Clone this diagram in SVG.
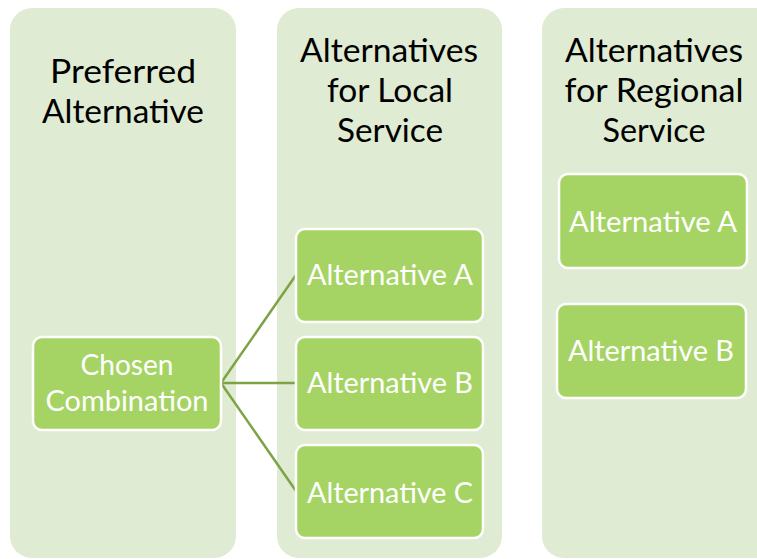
<svg xmlns="http://www.w3.org/2000/svg" width="757" height="559" viewBox="0 0 757 559">
<style>
.col{fill:#dfebd2;}
.box{fill:#a5d464;stroke:#ffffff;stroke-width:2.5;}
.hdr{font-family:Lato,"Liberation Sans",sans-serif;font-size:33px;fill:#000000;text-anchor:middle;}
.lbl{font-family:Lato,"Liberation Sans",sans-serif;font-size:28px;fill:#ffffff;text-anchor:middle;}
.conn{stroke:#7ea346;stroke-width:2.5;fill:none;}
</style>
<rect width="757" height="559" fill="#ffffff"/>
<g id="col-preferred">
<rect class="col" x="10" y="8" width="226" height="550" rx="22"/>
<text class="hdr" x="123" y="83" textLength="146" lengthAdjust="spacingAndGlyphs">Preferred</text>
<text class="hdr" x="123" y="123" textLength="162" lengthAdjust="spacingAndGlyphs">Alternative</text>
</g>
<g id="col-local">
<rect class="col" x="277" y="8" width="225" height="550" rx="22"/>
<text class="hdr" x="389" y="62" textLength="178" lengthAdjust="spacingAndGlyphs">Alternatives</text>
<text class="hdr" x="390" y="102" textLength="126" lengthAdjust="spacingAndGlyphs">for Local</text>
<text class="hdr" x="390" y="142" textLength="106" lengthAdjust="spacingAndGlyphs">Service</text>
</g>
<g id="col-regional">
<rect class="col" x="542" y="8" width="240" height="550" rx="22"/>
<text class="hdr" x="654" y="62" textLength="178" lengthAdjust="spacingAndGlyphs">Alternatives</text>
<text class="hdr" x="654" y="102" textLength="179" lengthAdjust="spacingAndGlyphs">for Regional</text>
<text class="hdr" x="654" y="142" textLength="103" lengthAdjust="spacingAndGlyphs">Service</text>
</g>
<g id="connectors">
<line class="conn" x1="221" y1="383" x2="296" y2="275"/>
<line class="conn" x1="221" y1="383" x2="296" y2="383"/>
<line class="conn" x1="221" y1="383" x2="296" y2="491"/>
</g>
<g id="chosen">
<rect class="box" x="33" y="337" width="188" height="93" rx="9"/>
<text class="lbl" x="127" y="375" textLength="93" lengthAdjust="spacingAndGlyphs">Chosen</text>
<text class="lbl" x="127" y="411" textLength="163" lengthAdjust="spacingAndGlyphs">Combination</text>
</g>
<g id="local-a">
<rect class="box" x="296" y="229" width="187" height="93" rx="9"/>
<text class="lbl" x="390" y="285" textLength="166" lengthAdjust="spacingAndGlyphs">Alternative A</text>
</g>
<g id="local-b">
<rect class="box" x="296" y="337" width="187" height="93" rx="9"/>
<text class="lbl" x="390" y="393" textLength="166" lengthAdjust="spacingAndGlyphs">Alternative B</text>
</g>
<g id="local-c">
<rect class="box" x="296" y="445" width="187" height="93" rx="9"/>
<text class="lbl" x="390" y="503" textLength="166" lengthAdjust="spacingAndGlyphs">Alternative C</text>
</g>
<g id="regional-a">
<rect class="box" x="559" y="174" width="188" height="94" rx="9"/>
<text class="lbl" x="653" y="232" textLength="168" lengthAdjust="spacingAndGlyphs">Alternative A</text>
</g>
<g id="regional-b">
<rect class="box" x="557" y="304" width="189" height="94" rx="9"/>
<text class="lbl" x="651" y="361" textLength="166" lengthAdjust="spacingAndGlyphs">Alternative B</text>
</g>
</svg>
